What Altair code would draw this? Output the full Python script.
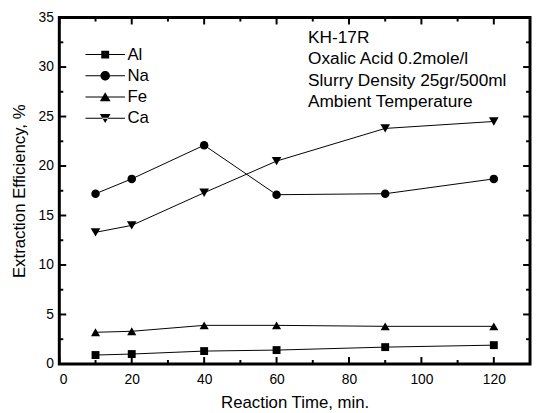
import altair as alt
import pandas as pd

# ---- data ----
times = [10, 20, 40, 60, 90, 120]
series_names = ["Al", "Na", "Fe", "Ca"]
al = [0.9, 1.0, 1.3, 1.4, 1.7, 1.9]
na = [17.2, 18.7, 22.1, 17.1, 17.2, 18.7]
fe = [3.2, 3.3, 3.9, 3.9, 3.8, 3.8]
ca = [13.3, 14.0, 17.3, 20.5, 23.8, 24.5]

annotation_lines = ["KH-17R", "Oxalic Acid 0.2mole/l",
                    "Slurry Density 25gr/500ml", "Ambient Temperature"]

x_major = [0, 20, 40, 60, 80, 100, 120]
x_minor = [10, 30, 50, 70, 90, 110]
y_major = [0, 5, 10, 15, 20, 25, 30, 35]
y_minor = [2.5, 7.5, 12.5, 17.5, 22.5, 27.5, 32.5]

x_title = "Reaction Time, min."
y_title = "Extraction Efficiency, %"

W, H = 477, 351
FONT = "Liberation Sans"

rows = []
for name, vals in zip(series_names, [al, na, fe, ca]):
    for t, v in zip(times, vals):
        rows.append({"time": t, "value": v, "series": name})
df = pd.DataFrame(rows)

xscale = alt.Scale(domain=[0, 130], nice=False, zero=False)
yscale = alt.Scale(domain=[0, 35], nice=False, zero=False)

x_axis = alt.Axis(values=x_major, ticks=False, domain=False, grid=False,
                  labelFont=FONT, labelFontSize=14, labelColor="black",
                  labelPadding=9, title=x_title, titleFont=FONT,
                  titleFontSize=17, titleFontWeight="normal", titleColor="black",
                  titlePadding=8)
y_axis = alt.Axis(values=y_major, ticks=False, domain=False, grid=False,
                  labelFont=FONT, labelFontSize=14, labelColor="black",
                  labelPadding=6, title=y_title, titleFont=FONT,
                  titleFontSize=17, titleFontWeight="normal", titleColor="black",
                  titlePadding=10)

base = alt.Chart(df)

lines = base.mark_line(color="black", strokeWidth=1).encode(
    x=alt.X("time:Q", scale=xscale, axis=x_axis),
    y=alt.Y("value:Q", scale=yscale, axis=y_axis),
    detail="series:N",
)

shape_plot = alt.Scale(domain=series_names,
                       range=["square", "circle", "triangle-up", "triangle-down"])
size_plot = alt.Scale(domain=series_names, range=[64, 95, 120, 120])

points = base.mark_point(filled=True, color="black", opacity=1).encode(
    x=alt.X("time:Q", scale=xscale),
    y=alt.Y("value:Q", scale=yscale),
    shape=alt.Shape("series:N", scale=shape_plot, legend=None),
    size=alt.Size("series:N", scale=size_plot, legend=None),
)

# legend glyphs: a thin bar (the line) plus the marker, all filled
bar = "M-5,-0.13H5V0.13H-5Z"
leg_paths = [
    bar + "M-1,-1H1V1H-1Z",
    bar + "M-1.2,0A1.2,1.2,0,1,1,1.2,0A1.2,1.2,0,1,1,-1.2,0Z",
    bar + "M0,-1.2L1.35,1.05L-1.35,1.05Z",
    bar + "M0,1.2L1.35,-1.05L-1.35,-1.05Z",
]
shape_leg = alt.Scale(domain=series_names, range=leg_paths)

ghost = base.mark_point(filled=True, color="black", opacity=0).encode(
    x=alt.X("time:Q", scale=xscale),
    y=alt.Y("value:Q", scale=yscale),
    shape=alt.Shape("series:N", scale=shape_leg, sort=series_names,
                    legend=alt.Legend(title=None, orient="none", legendX=38,
                                      legendY=29, symbolSize=64,
                                      symbolOpacity=1, symbolFillColor="black",
                                      symbolStrokeWidth=0, labelOffset=14,
                                      labelFont=FONT, labelFontSize=17,
                                      labelColor="black", rowPadding=3.5,
                                      padding=0)),
)

ann = alt.Chart(pd.DataFrame({"a": [0]})).mark_text(
    align="left", baseline="alphabetic", font=FONT, fontSize=17.5,
    color="black", lineHeight=21.5,
).encode(x=alt.value(252), y=alt.value(26), text=alt.value(annotation_lines))

def xticks(vals, length, sw):
    d = pd.DataFrame({"v": vals})
    bottom = alt.Chart(d).mark_rule(color="black", strokeWidth=sw).encode(
        x=alt.X("v:Q", scale=xscale),
        y=alt.value(H), y2=alt.value(H - length))
    top = alt.Chart(d).mark_rule(color="black", strokeWidth=sw).encode(
        x=alt.X("v:Q", scale=xscale),
        y=alt.value(0), y2=alt.value(length))
    return [bottom, top]

def yticks(vals, length, sw):
    d = pd.DataFrame({"v": vals})
    left = alt.Chart(d).mark_rule(color="black", strokeWidth=sw).encode(
        y=alt.Y("v:Q", scale=yscale),
        x=alt.value(0), x2=alt.value(length))
    right = alt.Chart(d).mark_rule(color="black", strokeWidth=sw).encode(
        y=alt.Y("v:Q", scale=yscale),
        x=alt.value(W), x2=alt.value(W - length))
    return [left, right]

tick_layers = (xticks(x_major, 7, 2) + xticks(x_minor, 4, 2)
               + yticks(y_major, 7, 2) + yticks(y_minor, 4, 2))

chart = alt.layer(lines, points, ghost, ann, *tick_layers).resolve_scale(
    shape="independent", size="independent"
).properties(
    width=W, height=H,
    background="white",
    autosize=alt.AutoSizeParams(type="none"),
    padding={"left": 52, "top": 7, "right": 2, "bottom": 46},
).configure_view(stroke="black", strokeWidth=3)

chart.save("out.html", embed_options={"renderer": "svg", "actions": False})
